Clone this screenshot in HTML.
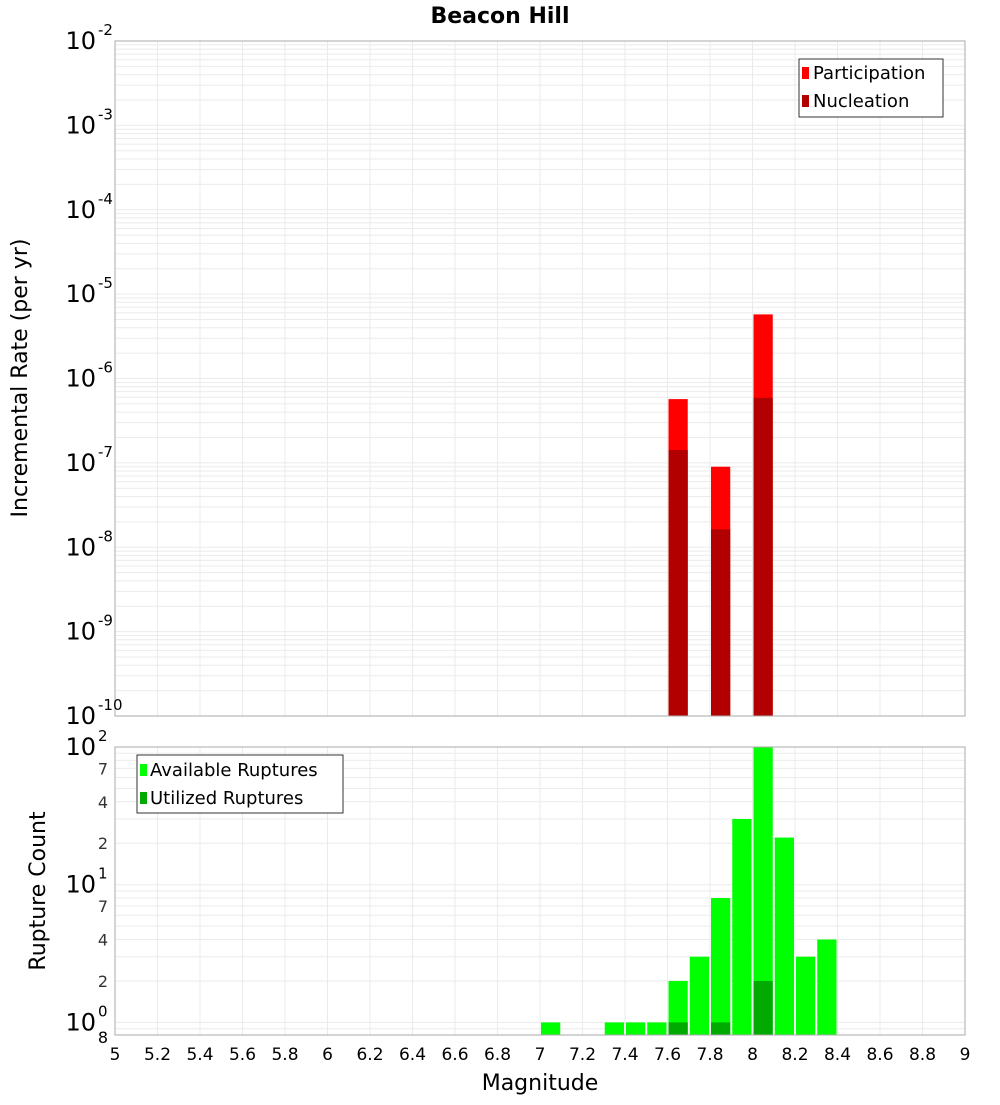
<!DOCTYPE html>
<html><head><meta charset="utf-8"><style>
body{margin:0;background:#fff;font-family:"Liberation Sans","DejaVu Sans",sans-serif}
svg text{font-family:"DejaVu Sans","Liberation Sans",sans-serif}
</style></head><body>
<svg id="chart" width="1000" height="1100" xmlns="http://www.w3.org/2000/svg">
<rect width="1000" height="1100" fill="#fff"/>
<text x="500" y="23" text-anchor="middle" font-size="22" font-weight="bold">Beacon Hill</text>
<g id="gtop"></g><g id="gbot"></g>
<text transform="translate(27,378) rotate(-90)" text-anchor="middle" font-size="22">Incremental Rate (per yr)</text>
<text transform="translate(45,891) rotate(-90)" text-anchor="middle" font-size="22">Rupture Count</text>
<text x="540" y="1090" text-anchor="middle" font-size="22">Magnitude</text>
<g>
<rect x="799" y="59" width="144" height="58" fill="#fff" stroke="#333"/>
<rect x="802" y="67" width="7" height="12" fill="#ff0000"/>
<text x="813" y="79" font-size="18">Participation</text>
<rect x="802" y="95" width="7" height="12" fill="#b20000"/>
<text x="813" y="107" font-size="18">Nucleation</text>
</g>
<g>
<rect x="137" y="755" width="206" height="58" fill="#fff" stroke="#333"/>
<rect x="140" y="764" width="7" height="12" fill="#00ff00"/>
<text x="150" y="776" font-size="18">Available Ruptures</text>
<rect x="140" y="792" width="7" height="12" fill="#00aa00"/>
<text x="150" y="804" font-size="18">Utilized Ruptures</text>
</g>
</svg>
<script>
const mags=[7.65,7.85,8.05];
const participation=[5.7e-7,9.0e-8,5.75e-6];
const nucleation=[1.42e-7,1.63e-8,5.9e-7];
const countMags=[7.05,7.35,7.45,7.55,7.65,7.75,7.85,7.95,8.05,8.15,8.25,8.35];
const available=[1,1,1,1,2,3,8,30,100,22,3,4];
const utilized=[0,0,0,0,1,0,1,0,2,0,0,0];
const xTicks=[5,5.2,5.4,5.6,5.8,6,6.2,6.4,6.6,6.8,7,7.2,7.4,7.6,7.8,8,8.2,8.4,8.6,8.8,9];
const topExps=[-10,-9,-8,-7,-6,-5,-4,-3,-2];
const botExps=[0,1,2];
const botMinor=[2,4,7];

const NS='http://www.w3.org/2000/svg';
const X0=115,X1=965;
const xs=m=>X0+(m-5)/(9-5)*(X1-X0);
const T0=41,T1=716,yTop=v=>T0+(-2-Math.log10(v))/8*(T1-T0);
const B0=747,B1=1035,bLo=Math.log10(0.81),bHi=2;
const yBot=v=>B0+(bHi-Math.log10(v))/(bHi-bLo)*(B1-B0);
function el(p,t,a){const e=document.createElementNS(NS,t);for(const k in a)e.setAttribute(k,a[k]);p.appendChild(e);return e;}
const gTop=document.getElementById('gtop'),gBot=document.getElementById('gbot');
for(let d=-10;d<-2;d++)for(let k=1;k<10;k++){const y=yTop(k*Math.pow(10,d));const l=el(gTop,'line',{x1:X0,x2:X1,y1:y,y2:y,stroke:'#ebebeb'});

}
for(let d=-1;d<2;d++)for(let k=1;k<10;k++){const v=k*Math.pow(10,d);if(v<0.81)continue;const y=yBot(v);const l=el(gBot,'line',{x1:X0,x2:X1,y1:y,y2:y,stroke:'#ebebeb'});

}
xTicks.forEach(t=>{const x=xs(t);[[gTop,T0,T1],[gBot,B0,B1]].forEach(([g,a,b])=>{const l=el(g,'line',{x1:x,x2:x,y1:a,y2:b,stroke:'#ebebeb'});

});
const tx=el(gBot,'text',{x:x,y:1060,'text-anchor':'middle','font-size':17});tx.textContent=String(t);

});
const bw=(X1-X0)/40;
mags.forEach((m,i)=>{const x=xs(m)-bw/2+1;
const p=el(gTop,'rect',{x:x,y:yTop(participation[i]),width:bw-2,height:T1-yTop(participation[i]),fill:'#ff0000'});


const n=el(gTop,'rect',{x:x,y:yTop(nucleation[i]),width:bw-2,height:T1-yTop(nucleation[i]),fill:'#b20000'});

});
countMags.forEach((m,i)=>{const x=xs(m)-bw/2+1;
const a=el(gBot,'rect',{x:x,y:yBot(available[i]),width:bw-2,height:B1-yBot(available[i]),fill:'#00ff00'});


if(utilized[i]>0){const u=el(gBot,'rect',{x:x,y:yBot(utilized[i]),width:bw-2,height:B1-yBot(utilized[i]),fill:'#00aa00'});

}});
const f1=el(gTop,'rect',{x:X0,y:T0,width:X1-X0,height:T1-T0,fill:'none',stroke:'#aaa'});


const f2=el(gBot,'rect',{x:X0,y:B0,width:X1-X0,height:B1-B0,fill:'none',stroke:'#aaa'});


function pow(g,y,e){const t=el(g,'text',{x:96,y:y+8,'text-anchor':'end','font-size':24});t.textContent='10';


const s=el(g,'text',{x:98,y:y-6,'font-size':15});s.textContent=String(e);

}
topExps.forEach(e=>pow(gTop,yTop(Math.pow(10,e)),e));
botExps.forEach(e=>pow(gBot,yBot(Math.pow(10,e)),e));
[0,1].forEach(d=>botMinor.forEach(k=>{const t=el(gBot,'text',{x:108,y:yBot(k*Math.pow(10,d))+6,'text-anchor':'end','font-size':16,fill:'#333'});t.textContent=String(k);

}));
const e8=el(gBot,'text',{x:108,y:1043,'text-anchor':'end','font-size':16});e8.textContent='8';


</script>
</body></html>
